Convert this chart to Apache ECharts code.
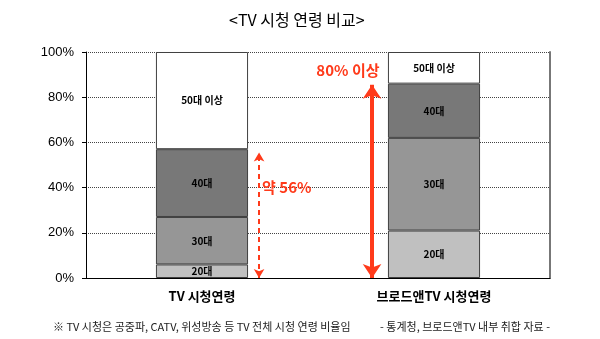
<!DOCTYPE html>
<html><head><meta charset="utf-8">
<script src="https://cdn.jsdelivr.net/npm/echarts@6/dist/echarts.min.js"></script>
<style>html,body{margin:0;padding:0;background:#fff}#c{width:600px;height:339px}</style>
</head><body><div id="c"></div>
<script>
const categories = ['TV 시청연령', '브로드앤TV 시청연령'];
const seriesNames = ['20대', '30대', '40대', '50대 이상'];
const v20 = [6, 21];
const v30 = [21, 41];
const v40 = [30, 24];
const v50 = [43, 14];
const yTicks = [0, 20, 40, 60, 80, 100];
const colors = ['#c0c0c0', '#969696', '#787878', '#ffffff'];
const note1 = { text: '약 56%', x: 0.759, y: 40 };
const note2 = { text: '80% 이상', x: 1.129, y: 92 };
const arrow1 = { x: 0.746, from: 0, to: 55.5 };
const arrow2 = { x: 1.233, from: 0, to: 85.5 };
const titleText = '<TV 시청 연령 비교>';
const footLeft = '※ TV 시청은 공중파, CATV, 위성방송 등 TV 전체 시청 연령 비율임';
const footRight = '- 통계청, 브로드앤TV 내부 취합 자료 -';

const FONT = '"Noto Sans CJK KR", "Noto Sans", Arial, sans-serif';
const RED = '#ff3a1a';
const values = [v20, v30, v40, v50];

const barSeries = seriesNames.map((n, i) => ({
  name: n, type: 'bar', stack: 'a', barWidth: '39.7%',
  data: values[i],
  itemStyle: { color: colors[i], borderColor: '#404040', borderWidth: 1 },
  label: { show: true, position: 'inside', formatter: n, color: '#000', fontSize: 10, fontWeight: 'bold', fontFamily: FONT },
  xAxisIndex: 0, yAxisIndex: 0
}));

const chart = echarts.init(document.getElementById('c'));
chart.setOption({
  animation: false,
  textStyle: { fontFamily: FONT },
  title: [
    { text: titleText, left: 224, top: 7, textStyle: { fontSize: 16, fontWeight: 'normal', color: '#000', fontFamily: FONT } },
    { text: footLeft, left: 48, top: 316, textStyle: { fontSize: 11, fontWeight: 'normal', color: '#222', fontFamily: FONT } },
    { text: footRight, left: 375, top: 316, textStyle: { fontSize: 11, fontWeight: 'normal', color: '#222', fontFamily: FONT } }
  ],
  grid: { left: 86, right: 50, top: 52, bottom: 61 },
  xAxis: [
    { type: 'category', data: categories,
      axisLine: { lineStyle: { color: '#000', width: 1 } },
      axisTick: { inside: true, length: 4, lineStyle: { color: '#000' } },
      axisLabel: { fontSize: 13, fontWeight: 'bold', color: '#000', margin: 12, fontFamily: FONT } },
    { type: 'value', min: 0, max: 2, show: false }
  ],
  yAxis: [
    { type: 'value', min: 0, max: 100, interval: 20,
      axisLine: { show: true, lineStyle: { color: '#000', width: 1 } },
      axisTick: { show: true, length: 4, lineStyle: { color: '#000' } },
      axisLabel: { fontSize: 13, color: '#000', margin: 12, fontFamily: 'Arial, "Liberation Sans", sans-serif',
        formatter: v => yTicks.includes(v) ? v + '%' : '' },
      splitLine: { lineStyle: { color: '#444', type: 'dotted', width: 1 } } },
    { type: 'value', min: 0, max: 100, position: 'right',
      axisLine: { show: true, lineStyle: { color: '#777', width: 2 } },
      axisTick: { show: false }, axisLabel: { show: false }, splitLine: { show: false } }
  ],
  series: barSeries.concat([
    { type: 'scatter', xAxisIndex: 1, yAxisIndex: 0, symbolSize: 0, silent: true, z: 10,
      itemStyle: { opacity: 1 },
      data: [[note1.x, note1.y, note1.text]],
      label: { show: true, position: 'right', distance: 0, formatter: p => p.data[2], color: RED, fontSize: 15, fontWeight: 'bold', fontFamily: FONT },
      markLine: { silent: true, symbol: ['arrow', 'arrow'], symbolSize: [8, 9], label: { show: false },
        lineStyle: { color: RED, width: 2, type: [5, 4], opacity: 1 },
        data: [[{ coord: [arrow1.x, arrow1.from] }, { coord: [arrow1.x, arrow1.to] }]] } },
    { type: 'scatter', xAxisIndex: 1, yAxisIndex: 0, symbolSize: 0, silent: true, z: 10,
      itemStyle: { opacity: 1 },
      data: [[note2.x, note2.y, note2.text]],
      label: { show: true, position: 'inside', formatter: p => p.data[2], color: RED, fontSize: 15, fontWeight: 'bold', fontFamily: FONT },
      markLine: { silent: true, symbol: ['arrow', 'arrow'], symbolSize: [14, 14], label: { show: false },
        lineStyle: { color: RED, width: 4, type: 'solid', opacity: 1 },
        data: [[{ coord: [arrow2.x, arrow2.from] }, { coord: [arrow2.x, arrow2.to] }]] } }
  ])
});
</script></body></html>
